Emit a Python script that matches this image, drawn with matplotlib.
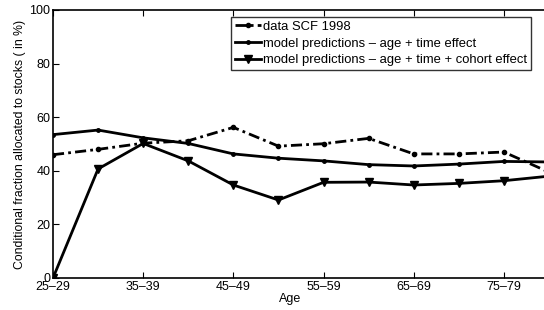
import matplotlib
matplotlib.use('Agg')
import matplotlib.pyplot as plt
import numpy as np

plt.rcParams['font.family'] = ['Liberation Sans', 'DejaVu Sans']

# age groups 25-29 ... 80-84
groups = ['25–29', '30–34', '35–39', '40–44', '45–49', '50–54',
          '55–59', '60–64', '65–69', '70–74', '75–79', '80–84']
data_scf = [46.0, 48.0, 50.3, 51.2, 56.2, 49.2, 50.1, 52.1, 46.3, 46.3, 47.0, 39.5]
age_time = [53.5, 55.2, 52.3, 50.2, 46.3, 44.7, 43.7, 42.3, 41.8, 42.5, 43.5, 43.3]
cohort = [0.0, 40.7, 50.2, 43.7, 34.7, 29.1, 35.7, 35.8, 34.7, 35.3, 36.3, 38.0]
tick_labels = ['25–29', '35–39', '45–49', '55–59', '65–69', '75–79']

x = np.arange(len(groups))

fig = plt.figure(figsize=(5.44, 3.10), dpi=100)
ax = fig.add_axes([53/544, 1 - 278/310, (549 - 53)/544, (278 - 10)/310])

ax.plot(x, data_scf, color='black', lw=2, ls=(0, (4, 1.5, 1, 1.5)), marker='o', ms=3,
        label='data SCF 1998')
ax.plot(x, age_time, color='black', lw=2, ls='-', marker='o', ms=2.5,
        label='model predictions – age + time effect')
ax.plot(x, cohort, color='black', lw=2, ls='-', marker='v', ms=6,
        label='model predictions – age + time + cohort effect')

ax.set_xlim(0, 11)
ax.set_ylim(0, 100)
ax.set_xticks(x[::2])
ax.set_xticklabels(tick_labels)
ax.set_yticks([0, 20, 40, 60, 80, 100])
ax.tick_params(direction='in', top=True, right=False, labelsize=9, length=4, pad=2)
ax.spines['right'].set_visible(False)
for s in ['left', 'bottom', 'top']:
    ax.spines[s].set_linewidth(1.2)

ax.set_ylabel('Conditional fraction allocated to stocks ( in %)', fontsize=8.8, labelpad=2)
ax.set_xlabel('Age', fontsize=9)
ax.xaxis.set_label_coords((290 - 53)/(549 - 53), -0.055)

leg = ax.legend(loc='upper left', bbox_to_anchor=((231 - 53)/496, (278 - 17)/268),
                fontsize=9.4, frameon=True, fancybox=False, edgecolor='black',
                borderpad=0.3, labelspacing=0.35, handlelength=2.0, handletextpad=0.15,
                borderaxespad=0)
leg.get_frame().set_linewidth(1.0)

fig.savefig('out.png', dpi=100)
